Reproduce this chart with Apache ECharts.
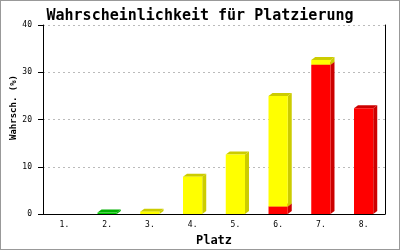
<!DOCTYPE html>
<html>
<head>
<meta charset="utf-8">
<script src="https://cdn.jsdelivr.net/npm/echarts@6/dist/echarts.min.js"></script>
<style>
html,body{margin:0;padding:0;background:#fff;}
#wrap{position:relative;width:400px;height:250px;}
#chart{position:absolute;left:0;top:0;width:400px;height:250px;}
#frame{position:absolute;left:0;top:0;width:400px;height:250px;box-sizing:border-box;border:1px solid #999;pointer-events:none;}
</style>
</head>
<body>
<div id="wrap"><div id="chart"></div><div id="frame"></div></div>
<script>
var categories = ['1.','2.','3.','4.','5.','6.','7.','8.'];
var redValues    = [0, 0,   0,   0,   0,    1.6, 31.6, 22.4];
var yellowValues = [0, 0,   0.5, 7.9, 12.6, 23.4, 1.0,  0];
var greenValues  = [0, 0.3, 0,   0,   0,    0,    0,    0];
var yTicks = [0, 10, 20, 30, 40];

var stackOrder = [
  {name: 'rot',  data: redValues,    front: '#ff0000', dark: '#cc0000'},
  {name: 'gelb', data: yellowValues, front: '#ffff00', dark: '#cccc00'},
  {name: 'grün', data: greenValues,  front: '#00cc00', dark: '#00b000'}
];

var mono = 'DejaVu Sans Mono';
var DX = 4, DY = 3;

function makeSeries(idx) {
  var s = stackOrder[idx];
  return {
    type: 'custom',
    name: s.name,
    data: s.data.map(function (v, i) { return [i, v]; }),
    renderItem: function (params, api) {
      var i = api.value(0);
      var v = api.value(1);
      if (!v) return null;
      var base = 0;
      for (var k = 0; k < idx; k++) base += stackOrder[k].data[i];
      var p0 = api.coord([i, base]);
      var p1 = api.coord([i, base + v]);
      var bw = api.size([1, 0])[0] * 0.45;
      var x0 = p0[0] - bw / 2, x1 = p0[0] + bw / 2;
      var yb = p0[1], yt = p1[1];
      return {
        type: 'group',
        children: [
          {type: 'polygon', shape: {points: [[x1, yb], [x1 + DX, yb - DY], [x1 + DX, yt - DY], [x1, yt]]},
           style: {fill: s.dark}},
          {type: 'polygon', shape: {points: [[x0, yt], [x0 + DX, yt - DY], [x1 + DX, yt - DY], [x1, yt]]},
           style: {fill: s.dark}},
          {type: 'rect', shape: {x: x0, y: yt, width: bw, height: yb - yt},
           style: {fill: s.front}}
        ]
      };
    }
  };
}

var chart = echarts.init(document.getElementById('chart'), null, {renderer: 'canvas'});
chart.setOption({
  animation: false,
  title: {
    text: 'Wahrscheinlichkeit für Platzierung',
    left: 'center', top: 4,
    textStyle: {fontFamily: mono, fontSize: 15, fontWeight: 'bold', color: '#000'}
  },
  grid: {left: 43, right: 15, top: 25, bottom: 36, containLabel: false, outerBoundsMode: 'none'},
  xAxis: {
    type: 'category',
    data: categories,
    boundaryGap: true,
    axisLine: {lineStyle: {color: '#000', width: 1}},
    axisTick: {show: false},
    axisLabel: {fontFamily: mono, fontSize: 8, color: '#000', margin: 7},
    name: 'Platz',
    nameLocation: 'middle',
    nameGap: 21,
    nameMoveOverlap: false,
    nameTextStyle: {fontFamily: mono, fontSize: 12, fontWeight: 'bold', color: '#000'}
  },
  yAxis: [{
    type: 'value',
    min: yTicks[0], max: yTicks[yTicks.length - 1], interval: 10,
    axisLine: {show: true, lineStyle: {color: '#000', width: 1}},
    axisTick: {show: true, length: 5, lineStyle: {color: '#000'}},
    axisLabel: {fontFamily: mono, fontSize: 8, color: '#000', margin: 11},
    splitLine: {show: true, lineStyle: {color: '#bbb', type: [2, 3]}},
    name: 'Wahrsch. (%)',
    nameLocation: 'middle',
    nameGap: 25,
    nameRotate: 90,
    nameMoveOverlap: false,
    nameTextStyle: {fontFamily: mono, fontSize: 9, fontWeight: 'bold', color: '#000', padding: [0, 0, 0, 24]}
  }, {
    type: 'value',
    position: 'right',
    min: yTicks[0], max: yTicks[yTicks.length - 1], interval: 10,
    axisLine: {show: true, lineStyle: {color: '#000', width: 1}},
    axisTick: {show: false},
    axisLabel: {show: false},
    splitLine: {show: false}
  }],
  series: [makeSeries(0), makeSeries(1), makeSeries(2)]
});
</script>
</body>
</html>
